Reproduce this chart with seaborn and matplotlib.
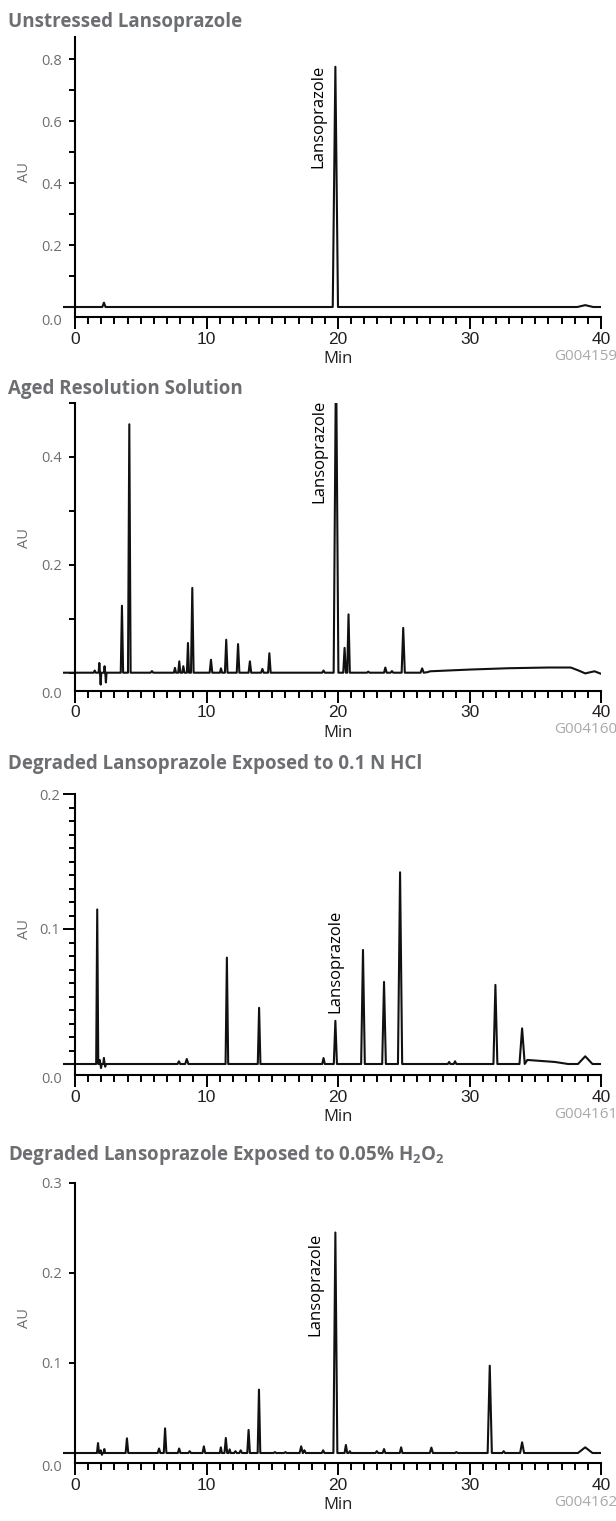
import matplotlib
matplotlib.use("Agg")
import numpy as np
import pandas as pd
import matplotlib.pyplot as plt
import seaborn as sns
from matplotlib import font_manager

sns.set_theme(style="ticks")
plt.rcParams["font.family"] = ["Open Sans", "DejaVu Sans"]
nomes = {f.name for f in font_manager.fontManager.ttflist}
narrow = "Liberation Sans Narrow" if "Liberation Sans Narrow" in nomes else "Liberation Sans"

# titles and figure codes
titles = ["Unstressed Lansoprazole",
          "Aged Resolution Solution",
          "Degraded Lansoprazole Exposed to 0.1 N HCl",
          r"Degraded Lansoprazole Exposed to 0.05% H$\mathregular{_2}$O$\mathregular{_2}$"]
codes = ["G004159", "G004160", "G004161", "G004162"]

# peaks: retention time (min), height (AU), half width at base (min)
p1_rt = [2.2, 19.8, 38.8]
p1_au = [0.014, 0.775, 0.006]
p1_hw = [0.12, 0.2, 0.6]
p1_base_t = [-0.9, 40.0]
p1_base_au = [0.0, 0.0]

p2_rt = [1.5, 1.85, 1.95, 2.25, 2.35, 3.57, 4.13, 5.85, 7.6, 7.93, 8.24, 8.59, 8.92, 10.34, 11.1,
         11.5, 12.4, 13.3, 14.25, 14.78, 18.9, 19.85, 20.5, 20.8, 22.3, 23.6, 24.1, 24.96, 26.4]
p2_au = [0.004, 0.018, -0.022, 0.012, -0.018, 0.124, 0.46, 0.003, 0.009, 0.021, 0.012, 0.055, 0.157,
         0.024, 0.008, 0.061, 0.053, 0.021, 0.007, 0.036, 0.004, 0.6, 0.046, 0.108, 0.002, 0.0096,
         0.003, 0.083, 0.008]
p2_hw = [0.08, 0.05, 0.05, 0.05, 0.05, 0.09, 0.1, 0.1, 0.08, 0.08, 0.08, 0.08, 0.1, 0.1, 0.08,
         0.1, 0.1, 0.1, 0.1, 0.1, 0.1, 0.18, 0.1, 0.1, 0.1, 0.1, 0.1, 0.12, 0.12]
p2_base_t = [-0.9, 26.8, 27.0, 30.0, 33.0, 36.0, 37.7, 38.3, 38.8, 39.5, 40.0]
p2_base_au = [0.0, 0.001, 0.0026, 0.0058, 0.0083, 0.0096, 0.0096, 0.004, -0.0013, 0.0026, -0.002]

p3_rt = [1.69, 1.88, 1.98, 2.2, 2.3, 7.9, 8.5, 11.55, 14.0, 18.9, 19.8, 21.9, 23.5, 24.72,
         28.45, 28.9, 31.97, 34.0, 38.8]
p3_au = [0.1145, 0.003, -0.003, 0.0045, -0.002, 0.002, 0.0037, 0.0788, 0.0416, 0.0044, 0.032,
         0.0845, 0.0608, 0.142, 0.0015, 0.002, 0.0586, 0.0264, 0.0057]
p3_hw = [0.08, 0.05, 0.05, 0.05, 0.05, 0.1, 0.12, 0.1, 0.1, 0.1, 0.12, 0.14, 0.14, 0.16,
         0.1, 0.1, 0.15, 0.2, 0.55]
p3_base_t = [-0.9, 34.4, 36.5, 37.5, 40.0]
p3_base_au = [0.0, 0.003, 0.0015, 0.0, 0.0]

p4_rt = [1.75, 1.96, 2.05, 2.23, 3.95, 6.39, 6.85, 7.92, 8.72, 9.8, 11.09, 11.47, 11.76, 12.2,
         12.6, 13.2, 13.99, 15.2, 16.0, 17.2, 17.45, 18.87, 19.8, 20.6, 20.9, 22.95, 23.5, 24.8,
         27.1, 29.0, 31.54, 32.6, 34.0, 38.8]
p4_au = [0.011, 0.003, -0.002, 0.0044, 0.0163, 0.005, 0.0274, 0.005, 0.002, 0.0074, 0.0063,
         0.0167, 0.004, 0.002, 0.003, 0.0256, 0.0704, 0.001, 0.001, 0.0074, 0.003, 0.003, 0.245,
         0.0089, 0.002, 0.002, 0.0044, 0.0063, 0.006, 0.001, 0.097, 0.002, 0.0119, 0.0063]
p4_hw = [0.08, 0.05, 0.04, 0.06, 0.1, 0.1, 0.1, 0.1, 0.1, 0.1, 0.08, 0.1, 0.08, 0.1,
         0.1, 0.1, 0.1, 0.1, 0.1, 0.12, 0.1, 0.1, 0.15, 0.1, 0.08, 0.1, 0.1, 0.1,
         0.12, 0.1, 0.16, 0.1, 0.15, 0.55]
p4_base_t = [-0.9, 40.0]
p4_base_au = [0.0, 0.0]

# y axis of each panel
y_top = [0.871, 0.5, 0.2, 0.3]
y_major = [[0.2, 0.4, 0.6, 0.8], [0.2, 0.4], [0.1, 0.2], [0.1, 0.2, 0.3]]
y_labels = [["0.2", "0.4", "0.6", "0.8"], ["0.2", "0.4"], ["0.1", "0.2"], ["0.1", "0.2", "0.3"]]
y_minor = [[0.0, 0.1, 0.3, 0.5, 0.7], [0.0, 0.1, 0.3, 0.5],
           [round(0.01 * i, 2) for i in range(0, 20) if i != 10], [0.0]]

x_major = [0, 10, 20, 30, 40]
x_labels = ["0", "10", "20", "30", "40"]
x_minor = [i for i in range(1, 40) if i % 10 != 0]

# label "Lansoprazole": x (min), y (AU), vertical anchor
lanso = [(18.5, 0.78, "top"), (18.6, 0.505, "top"), (19.8, 0.0375, "bottom"), (18.3, 0.245, "top")]

# layout (pixels)
W, H = 616, 1521
baseline_px = [307, 672.7, 1064, 1453]
gap_px = [10, 18, 11, 10]          # baseline to x axis line
title_px = [22, 389, 764, 1155]
x0_px, x40_px = 75, 601
px_min = (x40_px - x0_px) / 40.0
left_px = x0_px - 0.9 * px_min

cinza = "#6d6e71"
preto = "#231f20"


def tracado(rt, au, hw, base_t, base_au):
    pts = list(zip(base_t, base_au))
    for r, a, w in zip(rt, au, hw):
        pts += [(r - w, 0.0), (r, a), (r + w, 0.0)]
    pts.sort()
    return pd.DataFrame(pts, columns=["Min", "AU"])


traces = [tracado(p1_rt, p1_au, p1_hw, p1_base_t, p1_base_au),
          tracado(p2_rt, p2_au, p2_hw, p2_base_t, p2_base_au),
          tracado(p3_rt, p3_au, p3_hw, p3_base_t, p3_base_au),
          tracado(p4_rt, p4_au, p4_hw, p4_base_t, p4_base_au)]

fig = plt.figure(figsize=(W / 100, H / 100), dpi=100)

for i in range(4):
    b = baseline_px[i]
    top = b - 270
    bottom = b + gap_px[i]
    escala = 270 / y_top[i]
    y_bot = -gap_px[i] / escala
    ax = fig.add_axes([left_px / W, 1 - bottom / H, (x40_px - left_px) / W, (bottom - top) / H])
    ax.set_facecolor("none")

    sns.lineplot(data=traces[i], x="Min", y="AU", ax=ax, color="#111111", linewidth=1.5,
                 estimator=None, sort=False)

    ax.set_xlim(-0.9, 40)
    ax.set_ylim(y_bot, y_top[i])
    ax.set_xlabel("")
    ax.set_ylabel("")
    for s in ["top", "right"]:
        ax.spines[s].set_visible(False)
    ax.spines["left"].set_position(("data", 0))
    ax.spines["bottom"].set_bounds(0, 40)
    for s in ["left", "bottom"]:
        ax.spines[s].set_linewidth(1.5)
        ax.spines[s].set_color("black")

    ax.set_xticks(x_major, x_labels)
    ax.set_xticks(x_minor, minor=True)
    ax.tick_params(axis="x", which="major", direction="out", length=8.6, width=1.4, pad=2,
                   labelsize=12.5, labelcolor=preto, color="black")
    ax.tick_params(axis="x", which="minor", direction="out", length=5, width=1.4, color="black")
    for lbl in ax.get_xticklabels():
        lbl.set_family(narrow)

    ax.set_yticks(y_major[i], y_labels[i])
    ax.set_yticks(y_minor[i], minor=True)
    if i == 2:
        ax.tick_params(axis="y", which="major", length=8.6, width=1.4, pad=2)
    else:
        ax.tick_params(axis="y", which="major", length=4, width=1.4, pad=5.5)
    ax.tick_params(axis="y", which="minor", length=4, width=1.4, color="black")
    ax.tick_params(axis="y", which="major", direction="out", labelsize=10.5,
                   labelcolor=cinza, color="black")

    ax.annotate("0.0", xy=(0, y_bot), xycoords="data", xytext=(-9.6, -3),
                textcoords="offset points", ha="right", va="center", fontsize=10.5, color=cinza)

    lx, ly, lva = lanso[i]
    ax.text(lx, ly, "Lansoprazole", rotation=90, ha="center", va=lva, fontsize=12, color="black")

    fig.text(8 / W, 1 - title_px[i] / H, titles[i], ha="left", va="center", fontsize=13.5,
             fontweight="bold", color=cinza)
    fig.text(25 / W, 1 - (b - 135) / H, "AU", rotation=90, ha="center", va="center",
             fontsize=10.5, color=cinza)
    fig.text((x0_px + x40_px) / 2 / W, 1 - (bottom + 42) / H, "Min", ha="center", va="center",
             fontsize=12, color=preto)
    fig.text(617 / W, 1 - (bottom + 39) / H, codes[i], ha="right", va="center", fontsize=11,
             color="#a7a9ac")

fig.savefig("out.png", dpi=100)
